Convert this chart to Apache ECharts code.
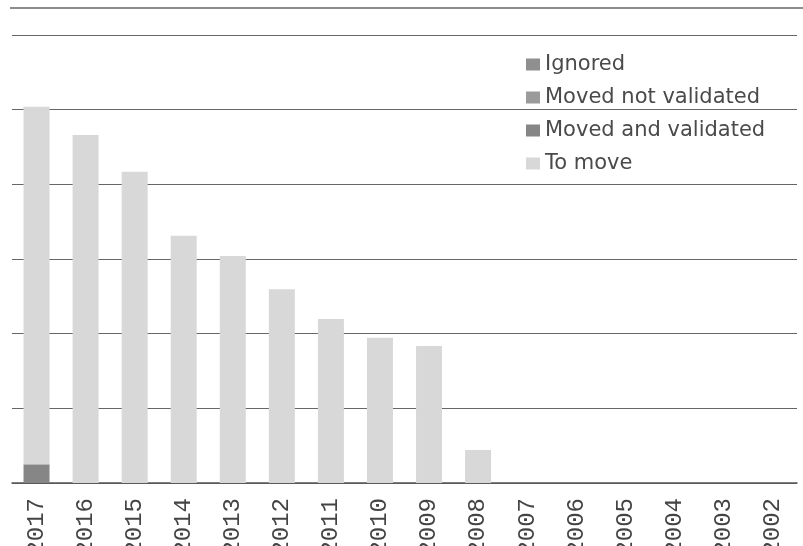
<!DOCTYPE html>
<html><head><meta charset="utf-8">
<script src="https://cdn.jsdelivr.net/npm/echarts@6/dist/echarts.min.js"></script>
<style>html,body{margin:0;padding:0;background:#fff;overflow:hidden}#c{width:803px;height:546px}</style>
</head><body><div id="c"></div>
<script>
const years = ['2017','2016','2015','2014','2013','2012','2011','2010','2009','2008','2007','2006','2005','2004','2003','2002'];
const movedAndValidated = [125,0,0,0,0,0,0,0,0,0,0,0,0,0,0,0];
const movedNotValidated = [0,0,0,0,0,0,0,0,0,0,0,0,0,0,0,0];
const ignored = [0,0,0,0,0,0,0,0,0,0,0,0,0,0,0,0];
const toMove = [2395,2330,2085,1655,1520,1297,1098,973,918,221,0,0,0,0,0,0];
const yTicks = [0,500,1000,1500,2000,2500,3000];

const chart = echarts.init(document.getElementById('c'), null, {renderer:'canvas'});
const labelFont = '"DejaVu Sans", "Open Sans", sans-serif';
function s(name, data, color){
  return {name, type:'bar', stack:'t', data, barWidth:26,
    itemStyle:{color}, emphasis:{disabled:true}};
}
chart.setOption({
  animation:false,
  backgroundColor:'#fff',
  grid:{left:12, right:6, top:35, bottom:63, containLabel:false, outerBoundsMode:'none'},
  legend:{
    orient:'vertical', left:521, top:49,
    itemWidth:14, itemHeight:12, itemGap:12,
    icon:'rect',
    textStyle:{fontFamily:labelFont, fontSize:21, color:'#4a4a4a'},
    data:['Ignored','Moved not validated','Moved and validated','To move']
  },
  xAxis:{
    type:'category', data:years,
    axisLine:{lineStyle:{color:'#555', width:1.5}},
    axisTick:{show:false},
    axisLabel:{rotate:90, margin:15, fontFamily:'"Liberation Mono", monospace', fontSize:24, color:'#444', interval:0}
  },
  yAxis:{
    type:'value', min:yTicks[0], max:yTicks[yTicks.length-1], interval:yTicks[1]-yTicks[0],
    axisLabel:{show:false}, axisLine:{show:false}, axisTick:{show:false},
    splitLine:{lineStyle:{color:'#666', width:1.2}}
  },
  graphic:[{type:'line', shape:{x1:10,y1:8,x2:803,y2:8}, style:{stroke:'#666', lineWidth:1.5}}],
  series:[
    s('Moved and validated', movedAndValidated, '#868686'),
    s('Moved not validated', movedNotValidated, '#9b9b9b'),
    s('Ignored', ignored, '#8f8f8f'),
    s('To move', toMove, '#d8d8d8')
  ]
});
</script></body></html>
